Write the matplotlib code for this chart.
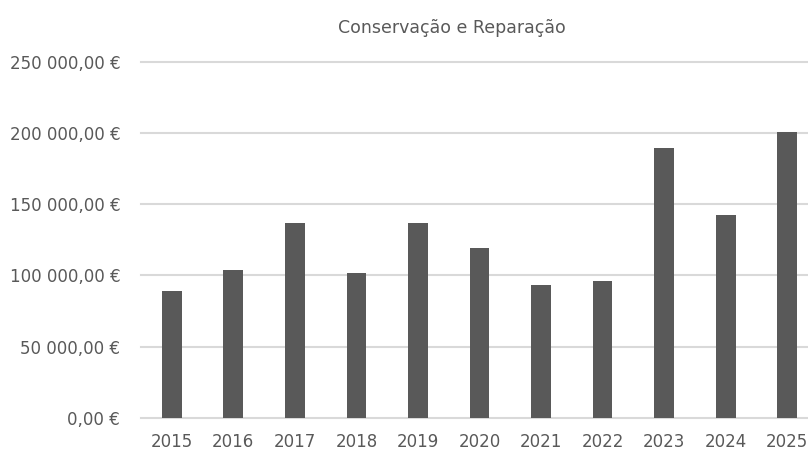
import matplotlib
matplotlib.use("Agg")
import matplotlib.pyplot as plt
from matplotlib.ticker import FuncFormatter, MultipleLocator

plt.rcParams['font.family'] = ['Liberation Sans Narrow', 'DejaVu Sans']

# despesas anuais
anos = ['2015', '2016', '2017', '2018', '2019', '2020', '2021', '2022', '2023', '2024', '2025']
valores = [89000, 104000, 137000, 101500, 137000, 119000, 93300, 96100, 189800, 142500, 200800]

cinza = '#595959'


def euros(v, pos):
    s = f"{v:,.2f}".replace(",", " ").replace(".", ",")
    return s + " €"


fig = plt.figure(figsize=(8.08, 4.57), dpi=100)
ax = fig.add_axes([141 / 808, 39.3 / 457, 677 / 808, 355.7 / 457])

x = range(len(anos))
ax.bar(x, valores, width=0.32, color=cinza, zorder=3)

ax.set_xlim(-0.5, len(anos) - 0.5)
ax.set_ylim(0, 250000)
ax.yaxis.set_major_locator(MultipleLocator(50000))
ax.yaxis.set_major_formatter(FuncFormatter(euros))
ax.set_xticks(list(x))
ax.set_xticklabels(anos)

ax.grid(axis='y', color='#d9d9d9', linewidth=1.5, zorder=0)
for g in ax.get_ygridlines():
    g.set_clip_on(False)
for s in ax.spines.values():
    s.set_visible(False)
ax.tick_params(axis='both', length=0, labelsize=12, colors=cinza)
ax.tick_params(axis='y', pad=15)
ax.tick_params(axis='x', pad=11)

fig.text(452 / 808, 1 - 28 / 457, 'Conservação e Reparação', ha='center', va='center',
         fontsize=12.5, color=cinza)

fig.savefig('out.png', dpi=100)
